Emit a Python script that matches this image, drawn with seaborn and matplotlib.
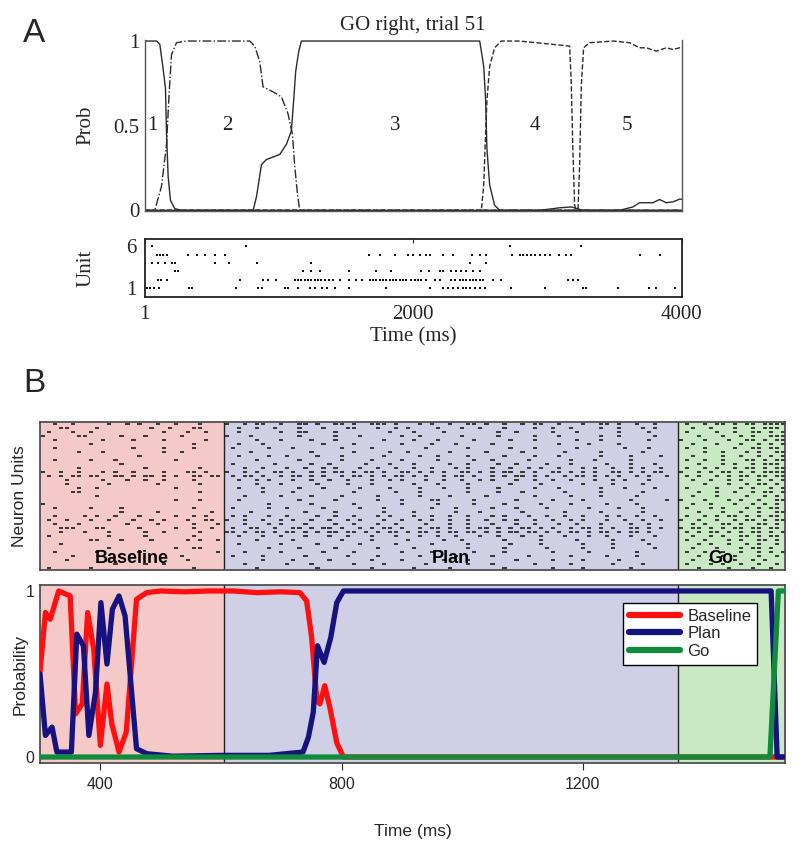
import numpy as np
import pandas as pd
import matplotlib
matplotlib.use("Agg")
import matplotlib.pyplot as plt
import seaborn as sns

# ---------------- Panel A data (HMM state probabilities, trial 51) ----------------
s1_t = [1, 90, 113, 137, 155, 163, 175, 192, 224, 274, 4000]
s1_p = [1.0, 1.0, 0.98, 0.84, 0.72, 0.45, 0.2, 0.06, 0.01, 0.0, 0.0]
s2_t = [1, 75, 125, 163, 182, 200, 237, 312, 783, 820, 857, 882, 956, 1019, 1068,
        1101, 1118, 1138, 1155, 4000]
s2_p = [0, 0, 0.14, 0.39, 0.69, 0.92, 0.99, 1.0, 1.0, 0.97, 0.88, 0.73, 0.70, 0.67,
        0.57, 0.45, 0.26, 0.10, 0.0, 0.0]
s3_t = [1, 808, 833, 870, 907, 1006, 1056, 1093, 1110, 1125, 1148, 1168, 2496, 2526,
        2540, 2550, 2570, 2607, 2645, 2943, 3091, 3178, 3265, 3538, 3637, 3687, 3786,
        3836, 3886, 3935, 3985, 4000]
s3_p = [0, 0, 0.08, 0.27, 0.30, 0.33, 0.39, 0.47, 0.65, 0.82, 0.94, 1.0, 1.0, 0.85,
        0.65, 0.36, 0.15, 0.03, 0.0, 0.0, 0.015, 0.02, 0.0, 0.0, 0.02, 0.045, 0.045,
        0.064, 0.045, 0.05, 0.066, 0.066]
s4_t = [1, 2508, 2526, 2540, 2550, 2570, 2607, 2657, 2793, 2918, 3042, 3166, 3178,
        3190, 3203, 3215, 4000]
s4_p = [0, 0, 0.15, 0.46, 0.65, 0.85, 0.96, 1.0, 1.0, 0.99, 0.98, 0.97, 0.75, 0.36,
        0.03, 0, 0]
s5_t = [1, 3228, 3240, 3253, 3270, 3315, 3489, 3613, 3687, 3737, 3811, 3886, 3935,
        3985, 4000]
s5_p = [0, 0, 0.26, 0.74, 0.96, 0.99, 1.0, 0.99, 0.96, 0.96, 0.94, 0.96, 0.95, 0.96,
        0.96]
state_names = ["1", "2", "3", "4", "5"]
state_label_t = [61, 619, 1870, 2905, 3590]

# spike times (ms) of the 6 units in panel A
unit1 = [14, 38, 68, 107, 331, 349, 684, 845, 877, 1043, 1068, 1143, 1235, 1267, 1324,
         1359, 1416, 1523, 1796, 2129, 2222, 2260, 2297, 2334, 2371, 2397, 2421, 2458,
         2496, 2533, 2732, 2980, 3265, 3290, 3526, 3757, 3812, 3948]
unit2 = [100, 125, 163, 708, 882, 919, 982, 1118, 1143, 1168, 1192, 1217, 1242, 1267,
         1292, 1317, 1341, 1373, 1403, 1453, 1523, 1578, 1622, 1677, 1701, 1726, 1751,
         1776, 1801, 1826, 1850, 1875, 1900, 1925, 1950, 1987, 2012, 2036, 2062, 2099,
         2161, 2198, 2285, 2310, 2347, 2372, 2397, 2421, 2446, 2471, 2496, 2521, 2595,
         2658, 3153, 3190, 3228]
unit3 = [224, 249, 1180, 1242, 1304, 1523, 1721, 1838, 2062, 2118, 2198, 2222, 2285,
         2322, 2359, 2397, 2446, 2496]
unit4 = [1, 51, 100, 150, 200, 224, 522, 629, 837, 1242, 2426, 2540]
unit5 = [93, 113, 133, 163, 323, 390, 453, 522, 597, 1671, 1751, 1862, 1962, 1999, 2049,
         2099, 2123, 2222, 2297, 2441, 2501, 2546, 2739, 2793, 2818, 2848, 2878, 2908,
         2943, 2980, 3017, 3086, 3136, 3178, 3687, 3836]
unit6 = [58, 753, 2724, 3253]

# ---------------- Panel B data ----------------
phase_names = ["Baseline", "Plan", "Go"]
phase_edges = [300, 605, 1357, 1535]
phase_colors = ["#f6c9c9", "#cfcfe6", "#c9e9c5"]

baseline_t = [300, 309, 317, 331, 350, 359, 370, 379, 389, 400, 411, 419, 431, 443, 460,
              477, 500, 540, 580, 620, 660, 700, 731, 742, 750, 759, 764, 772, 781, 792,
              803, 1535]
baseline_p = [0.51, 0.87, 0.83, 1.0, 0.97, 0.26, 0.32, 0.87, 0.65, 0.07, 0.44, 0.20, 0.03,
              0.15, 0.95, 0.99, 1.0, 0.995, 1.0, 1.0, 0.99, 0.995, 0.99, 0.94, 0.73, 0.34,
              0.32, 0.43, 0.29, 0.085, 0.0, 0.0]
plan_t = [300, 309, 320, 328, 352, 361, 372, 381, 392, 401, 411, 420, 431, 441, 460, 477,
          520, 600, 680, 736, 745, 753, 760, 771, 782, 792, 803, 1000, 1200, 1512, 1522,
          1535]
plan_p = [0.50, 0.13, 0.18, 0.03, 0.03, 0.74, 0.67, 0.13, 0.39, 0.93, 0.56, 0.89, 0.97,
          0.85, 0.05, 0.02, 0.005, 0.01, 0.01, 0.03, 0.12, 0.27, 0.67, 0.57, 0.72, 0.93,
          1.0, 1.0, 1.0, 1.0, 0.0, 0.0]
go_t = [300, 1510, 1524, 1535]
go_p = [0.0, 0.0, 1.0, 1.0]

# raster of panel B, one string per unit (top to bottom), '-' = spike in a 10 ms bin
baseline_rows = [
    "  -  -     -  - -  -  -   -   ",
    "   --    -        -  -   --   ",
    " -   -  -           -   -  -  ",
    "-     --     -   -     -      ",
    "  -       -    -    -      -  ",
    "        -                -    ",
    "  -            -    -    -    ",
    "      -   -         -  -      ",
    "                -             ",
    "  -     -   -         -       ",
    "             -                ",
    "      -          -        -   ",
    "-  -  -   - -  -    -   -- -  ",
    " - - -- --  -- - -- - -  -- --",
    "    -     -   -  -  -    -    ",
    "    -      -       -      -   ",
    "      -  -            -       ",
    "     --                   -   ",
    "         -                    ",
    "                      -   -   ",
    "-                             ",
    "  -     -    -           -    ",
    "             -     -        - ",
    "  -    - -  -   -     -  - -  ",
    " -  -   -  -   -  - -   -  -- ",
    "  -   -       -    -     -   -",
    "   ---   --     -     -  -  - ",
    "   -   -   -     -  -     -   ",
    " -         -     -       -    ",
    "        --   -    -     - -  -",
    "   -                          ",
    "           -          -  --   ",
    "  -      -      -            -",
    "     -                 -      ",
    "    -                   -     ",
    "            -    -  -         ",
    " -      -                -    ",
]
plan_rows = [
    "-  - --  -  -- -  -- -  --- -   - -  -  -- -  -  - --  -   -  -- -  -  -  ",
    "  -  -  -   -   -   --   -  - -    -   -  -   -    -  -  -    -  -   - -  ",
    "  -      -  --    -        -   -    -        -  -     -   -      -    -   ",
    "-   -       -     -   -      -  -      -     -     -   -      -  -     -  ",
    "     -   -    -   -       -    -   -     -     -   -      -   -       -  ",
    "  -   -         -    -       -    -   -     -          -    -    -       ",
    " -     -   -       -    -        -      -      -   -      -       -   -  ",
    "    -         -      -     -  -      -     -     -      -     -      -   ",
    "  -    -  -    -   -      -     -  -    -     -    -   -      -    -    -",
    "     -      -      -    -    -     -     -  -     -      -   -     -     ",
    " -      -     -  -     -   -   -     -  -    -  -    -   -     -   -   - ",
    "   -  -   -  -  - -   -  -  -  -  -   - -   -  -  - -  -   - -  -  - -  -",
    "-  - -  -- -  - - -- - -- -  -- - - -  -- - - -- - -  -- - - -  -- - - --",
    " - -- -  - -- - -  - -- - - -- - -  - -- -  - - -- - -  - -- - - -  - -  -",
    "  -  - -   -  -  -  -   -  - -   -  -  -  - -   -  -  -  -   -  - -   -  ",
    "     -   -     -    -   -      -   -    -      -    -      -    -    -    ",
    "  -   -     -   -     -    -    -   -   -    -     -   -      -   -    -  ",
    "      -    -         -      -   -       -    -   -      -     -      -    ",
    "   -     -    -    -     -      -    -     -       -     -    -     -     ",
    "  -         -     -      -   -    --     -      -     -    -       -     -",
    "       -      -      -       -     -     -    -     -    -     -    -     ",
    " -     -  -     -     -   -       -   -     -   -    -      -    -   -    ",
    "    -        -    -       -    -      -   -      -      -     -      -   ",
    " - -   -  -    -  -  -   - -   -  -  -  -   - -   -  -  -  -   - -  -  - ",
    "-  -  -  - -  -  -  - -   -  -  - -  -  -  -  - -  -  -  - -   -  -  -  -",
    "   -   - -   -    -  -   -  -    -   -  -   -   -  -   -  -   -    -  -  ",
    " -  --  -  -- - -- -  - - -- -  - -- -  - -- - - -- - -  - -- - -  -- - -",
    "-- - -- - -- - - -- -- - - -- - -- - -- -- - - -- -- - - -- - -- - -- - ",
    "  -   -  -   -   -  -   -   -   -  -  -   -  -   -  -   -   -  -   -   - ",
    "     -     -       -    -     -     -  -      -     -     -     -    -    ",
    "  -      -     -      -     -     -     -      -    -      -    -     -   ",
    "       -    -     -      -     -        -     -      -     -    -      - ",
    "   -     -      -    -       -    -      -    -       -     -       -    ",
    " -    -      -      -    -      -     -     -     -      -     -    -    ",
    "      -    -     -      -    -      -   -       -     -    -     -       ",
    "   -      -   -      -    -      -      -   -      -     -      -    -   ",
    "     -         -        -      -     -        -       -    -       -     ",
]
go_rows = [
    " -  - -- - -- ----",
    "  -  -   -  - --- ",
    " -    -  -  -- - -",
    "   -   -  - -  ---",
    "-   -   -  -- - --",
    "  -   -   -  - - -",
    " -  -    -  -- -- ",
    "    -  -   - -  --",
    "  -    -  -  - - -",
    " -  -  -   -- - --",
    "   -   - -  - --- ",
    " -  - -  - -- - --",
    "-  - - -- - - ----",
    " - -  - - -- -- --",
    "  -  -  - -  - - -",
    "    -   -  - -- - ",
    " -    -   - -  - -",
    "   -  -  -  - -- -",
    "  -   -    -  - - ",
    "-   -   - -  -  --",
    "  -  -   -  - - - ",
    " -   - -   - - -- ",
    "   -   -  -  -  --",
    " -  - - -- - - -- ",
    "-  -  -  - -- - --",
    "  - -  -- -  -- - ",
    "- -- - - -- -- -- ",
    " - - -- - - -- - -",
    "  -  - -  -- - -- ",
    " -  -   - -  -- - ",
    "   - -  -  - -  - ",
    "  -   -   - -- -  ",
    " -  -  -  -  - - -",
    "   -   - -   -  - ",
    "  -  -   -  - -   ",
    " -   - -  -  -  - ",
    "   -    -   -  -  ",
]

# ---------------- style ----------------
sns.set_style("white")
plt.rcParams["font.family"] = ["Liberation Sans", "DejaVu Sans"]
SERIF = ["Liberation Serif", "DejaVu Serif"]
INK = "#2b2b2b"

fig = plt.figure(figsize=(8, 8.55), dpi=100)

# ================= Panel A: probabilities =================
axA = fig.add_axes([0.181, 0.753, 0.671, 0.200])
states = [(s1_t, s1_p, "-"), (s2_t, s2_p, "-."), (s3_t, s3_p, "-"),
          (s4_t, s4_p, "--"), (s5_t, s5_p, "--")]
for t, p, ls in states:
    sns.lineplot(x=t, y=p, ax=axA, color=INK, linewidth=1.0, linestyle=ls,
                 estimator=None, sort=False)
for name, t in zip(state_names, state_label_t):
    axA.text(t, 0.5, name, ha="center", va="center", fontsize=15, family=SERIF,
             color="#222")
axA.set_xlim(1, 4000)
axA.set_ylim(-0.005, 1.005)
axA.set_yticks([0, 0.5, 1])
axA.set_yticklabels(["0", "0.5", "1"], family=SERIF, fontsize=15)
axA.set_xticks([2000])
axA.set_xticklabels([])
axA.tick_params(direction="in", length=4, width=0.8, color="#444", pad=4)
axA.spines["top"].set_visible(False)
for s in ["left", "bottom", "right"]:
    axA.spines[s].set_color("#555")
    axA.spines[s].set_linewidth(1.0)
axA.set_ylabel("Prob", family=SERIF, fontsize=15)
axA.yaxis.set_label_coords(-0.092, 0.5)
axA.set_xlabel("")
axA.set_title("GO right, trial 51", family=SERIF, fontsize=15, pad=7)

# ================= Panel A: raster =================
axR = fig.add_axes([0.181, 0.6526, 0.671, 0.0679])
units = [unit1, unit2, unit3, unit4, unit5, unit6]
spk = pd.DataFrame([(t, u + 1) for u, times in enumerate(units) for t in times],
                   columns=["t", "unit"])
sns.scatterplot(data=spk, x="t", y="unit", ax=axR, marker="s", s=3.5, color="#111",
                linewidth=0)
axR.set_xlim(1, 4000)
axR.set_ylim(-0.05, 6.85)
axR.set_yticks([1, 6])
axR.set_yticklabels(["1", "6"], family=SERIF, fontsize=15)
axR.set_xticks([1, 2000, 4000])
axR.set_xticklabels(["1", "2000", "4000"], family=SERIF, fontsize=15)
axR.tick_params(direction="in", length=3, width=0.8, top=True, pad=6)
for s in axR.spines.values():
    s.set_color("#222")
    s.set_linewidth(1.3)
axR.set_ylabel("Unit", family=SERIF, fontsize=15)
axR.yaxis.set_label_coords(-0.092, 0.5)
axR.set_xlabel("Time (ms)", family=SERIF, fontsize=15, labelpad=2)

# ================= Panel B: raster =================
axB1 = fig.add_axes([0.05, 0.3333, 0.93125, 0.1731])
axB2 = fig.add_axes([0.05, 0.1076, 0.93125, 0.2082])
for ax in (axB1, axB2):
    for i, c in enumerate(phase_colors):
        ax.axvspan(phase_edges[i], phase_edges[i + 1], color=c, lw=0, zorder=0)
    for e in phase_edges[1:-1]:
        ax.axvline(e, color="#222", lw=1.0, zorder=1)
    ax.set_xlim(phase_edges[0], phase_edges[-1])
    for s in ax.spines.values():
        s.set_color("#444")
        s.set_linewidth(1.2)

ys, x0, x1 = [], [], []
for rows, start, end in zip([baseline_rows, plan_rows, go_rows], phase_edges[:-1],
                            phase_edges[1:]):
    for r, row in enumerate(rows):
        for i, ch in enumerate(row):
            t = start + 10 * i + 5
            if ch == "-" and t < end:
                ys.append(r)
                x0.append(t - 3.5)
                x1.append(t + 3.5)
axB1.hlines(ys, x0, x1, color="#2a2a2a", lw=1.3, zorder=2)
axB1.set_ylim(len(baseline_rows) - 0.5, -0.5)
axB1.set_xticks([])
axB1.set_yticks([])
axB1.set_ylabel("Neuron Units", fontsize=12.5)
axB1.yaxis.set_label_coords(-0.017, 0.5)
for name, xf in zip(phase_names, [0.123, 0.552, 0.914]):
    axB1.text(xf, 0.08, name, transform=axB1.transAxes, ha="center", va="center",
              fontsize=13, fontweight="bold", color="black", zorder=3)

# ================= Panel B: probabilities =================
prob = pd.concat([
    pd.DataFrame({"t": baseline_t, "p": baseline_p, "state": "Baseline"}),
    pd.DataFrame({"t": plan_t, "p": plan_p, "state": "Plan"}),
    pd.DataFrame({"t": go_t, "p": go_p, "state": "Go"}),
])
line_colors = {"Baseline": "#ff1010", "Plan": "#16127e", "Go": "#128a3c"}
sns.lineplot(data=prob, x="t", y="p", hue="state", palette=line_colors, ax=axB2,
             linewidth=3.8, estimator=None, sort=False, zorder=3)
axB2.set_ylim(-0.036, 1.036)
axB2.set_yticks([0, 0.5, 1])
axB2.set_yticklabels(["0", "", "1"], fontsize=11.5)
axB2.tick_params(axis="y", direction="in", length=4, width=0.8, pad=4)
axB2.set_xticks([400, 800, 1200])
axB2.set_xticklabels(["400", "800", "1200"], fontsize=11.5)
axB2.tick_params(axis="x", direction="out", length=5, width=0.8, pad=5, bottom=True)
axB2.set_ylabel("Probability", fontsize=12.5)
axB2.yaxis.set_label_coords(-0.017, 0.5)
axB2.set_xlabel("Time (ms)", fontsize=12.5)
axB2.xaxis.set_label_coords(0.5, -0.34)
leg = axB2.legend(loc="upper right", bbox_to_anchor=(0.9624, 0.899), fontsize=12,
                  frameon=True, fancybox=False, edgecolor="black", framealpha=1,
                  handlelength=3.1, labelspacing=0.15, borderpad=0.35,
                  handletextpad=0.4, borderaxespad=0)
leg.get_frame().set_linewidth(1.0)
for h in leg.get_lines():
    h.set_linewidth(4.5)

# panel letters
fig.text(0.0425, 0.961, "A", fontsize=24, ha="center", va="center")
fig.text(0.0425, 0.551, "B", fontsize=24, ha="center", va="center")

fig.savefig("out.png", dpi=100)
